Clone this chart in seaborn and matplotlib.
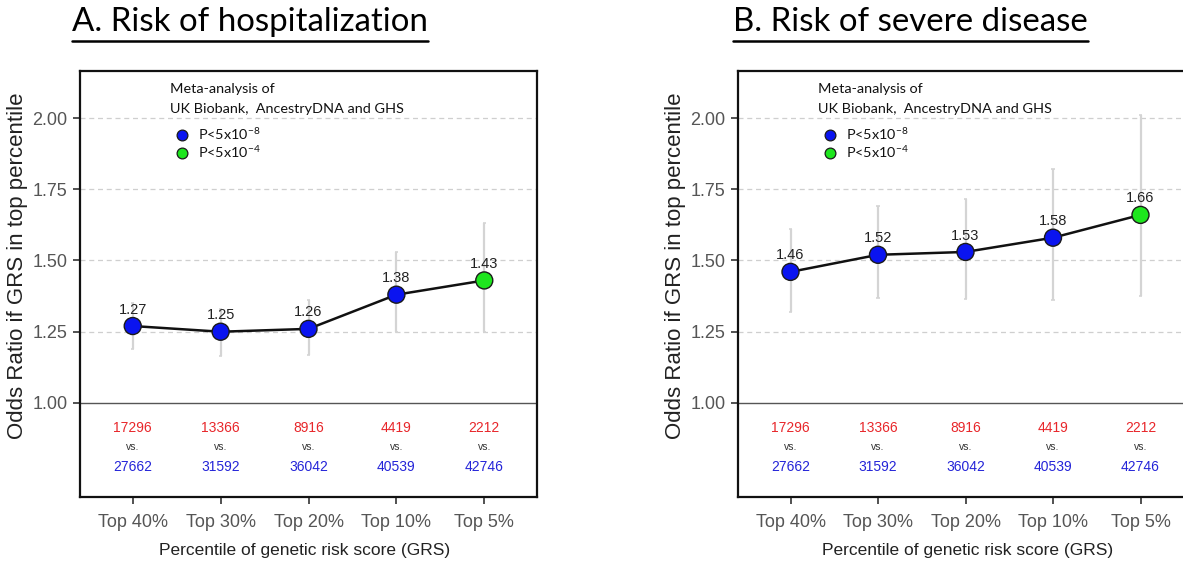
import matplotlib
matplotlib.use("Agg")
import matplotlib.pyplot as plt
import seaborn as sns
import pandas as pd
import numpy as np

categories = ["Top 40%", "Top 30%", "Top 20%", "Top 10%", "Top 5%"]
cases = ["17296", "13366", "8916", "4419", "2212"]
controls = ["27662", "31592", "36042", "40539", "42746"]

hosp_or = [1.27, 1.25, 1.26, 1.38, 1.43]
hosp_lo = [1.19, 1.165, 1.17, 1.25, 1.25]
hosp_hi = [1.35, 1.33, 1.36, 1.53, 1.63]
hosp_sig = ["P<5x10-8", "P<5x10-8", "P<5x10-8", "P<5x10-8", "P<5x10-4"]

sev_or = [1.46, 1.52, 1.53, 1.58, 1.66]
sev_lo = [1.32, 1.37, 1.365, 1.36, 1.375]
sev_hi = [1.61, 1.69, 1.715, 1.82, 2.01]
sev_sig = ["P<5x10-8", "P<5x10-8", "P<5x10-8", "P<5x10-8", "P<5x10-4"]

titles = ["A. Risk of hospitalization", "B. Risk of severe disease"]
yticks = [1.00, 1.25, 1.50, 1.75, 2.00]

sns.set_theme(style="white")
plt.rcParams["font.family"] = ["Liberation Sans", "DejaVu Sans"]

W, H = 1183, 563
fig = plt.figure(figsize=(W / 100, H / 100), dpi=100)

palette = {"P<5x10-8": "#0a14f0", "P<5x10-4": "#1ee61e"}
gray = "#555555"

def px_axes(left, top, right, bottom):
    return fig.add_axes([left / W, 1 - bottom / H, (right - left) / W, (bottom - top) / H])

panels = [
    (hosp_or, hosp_lo, hosp_hi, hosp_sig, (80, 71, 537, 497), 72, 305),
    (sev_or, sev_lo, sev_hi, sev_sig, (738, 71, 1193, 497), 733, 968),
]

for i, (orv, lo, hi, sig, box, tx, xlab_x) in enumerate(panels):
    ax = px_axes(*box)
    df = pd.DataFrame({"x": np.arange(len(categories)), "cat": categories,
                       "or": orv, "lo": lo, "hi": hi, "sig": sig})
    for yv in yticks[1:]:
        ax.axhline(yv, color="#cfcfcf", lw=0.9, ls=(0, (4, 3)), zorder=0)
    ax.axhline(1.0, color="#555555", lw=1.0, zorder=1)
    ax.vlines(df["x"], df["lo"], df["hi"], color="#d4d4d4", lw=1.6, zorder=2)
    ax.hlines(df["lo"], df["x"] - 0.02, df["x"] + 0.02, color="#d4d4d4", lw=1.2, zorder=2)
    ax.hlines(df["hi"], df["x"] - 0.02, df["x"] + 0.02, color="#d4d4d4", lw=1.2, zorder=2)
    sns.lineplot(data=df, x="x", y="or", color="#111111", lw=1.8, ax=ax, zorder=3)
    sns.scatterplot(data=df, x="x", y="or", hue="sig", palette=palette, s=150,
                    edgecolor="#1a1a1a", linewidth=1.0, ax=ax, zorder=4, legend=False)
    for _, r in df.iterrows():
        ax.text(r["x"], r["or"] + 0.033, f"{r['or']:.2f}", ha="center", va="bottom",
                fontsize=10.5, color="#222222", zorder=5)
        ax.text(r["x"], 0.912, cases[int(r["x"])], ha="center", va="center",
                fontsize=10, color="#e8262a")
        ax.text(r["x"], 0.846, "vs.", ha="center", va="center",
                fontsize=7.5, color="#333333")
        ax.text(r["x"], 0.776, controls[int(r["x"])], ha="center", va="center",
                fontsize=10, color="#2424d8")
    ax.set_xlim(-0.6, 4.6)
    ax.set_ylim(0.67, 2.165)
    ax.set_xticks(range(len(categories)))
    ax.set_xticklabels(categories)
    ax.set_yticks(yticks)
    ax.set_yticklabels([f"{v:.2f}" for v in yticks])
    ax.tick_params(axis="both", which="both", direction="out", length=5, width=1.2,
                   color="#333333", labelcolor=gray, labelsize=13, pad=4,
                   bottom=True, left=True)
    ax.tick_params(axis="x", pad=7)
    ax.set_xlabel("")
    ax.set_ylabel("")
    for s in ax.spines.values():
        s.set_visible(True)
        s.set_color("#111111")
        s.set_linewidth(1.6)
    lx = 0.197 if i == 0 else 0.176
    ax.text(lx, 0.958, "Meta-analysis of", transform=ax.transAxes, fontsize=10.4,
            family=["Lato", "DejaVu Sans"], va="center", ha="left", color="#111111")
    ax.text(lx, 0.911, "UK Biobank,  AncestryDNA and GHS", transform=ax.transAxes,
            fontsize=10.4, family=["Lato", "DejaVu Sans"], va="center", ha="left", color="#111111")
    for j, (lab, col) in enumerate([("P<5x10$^{\\mathregular{-8}}$", palette["P<5x10-8"]),
                                     ("P<5x10$^{\\mathregular{-4}}$", palette["P<5x10-4"])]):
        yy = 0.85 - j * 0.043
        ax.scatter([lx + 0.026], [yy], s=60, color=col, edgecolor="#1a1a1a", lw=0.9,
                   transform=ax.transAxes, zorder=6, clip_on=False)
        ax.text(lx + 0.062, yy + 0.003, lab, transform=ax.transAxes, fontsize=10.4,
                family=["Lato", "DejaVu Sans"], va="center", ha="left", color="#111111")
    t = fig.text(tx / W, 1 - 22 / H, titles[i], fontsize=23.8, family=["Lato", "DejaVu Sans"],
                 ha="left", va="center", color="#000000")
    fig.canvas.draw()
    bb = t.get_window_extent()
    fig.add_artist(plt.Line2D([bb.x0 / W, bb.x1 / W], [1 - 41 / H, 1 - 41 / H],
                              color="black", lw=1.8, transform=fig.transFigure))
    fig.text((box[0] - 62) / W, 1 - 266 / H, "Odds Ratio if GRS in top percentile",
             rotation=90, ha="center", va="center", fontsize=16, color="#222222")
    fig.text(xlab_x / W, 1 - 551 / H, "Percentile of genetic risk score (GRS)",
             ha="center", va="center", fontsize=12.5, color="#222222")

fig.savefig("out.png", dpi=100)
